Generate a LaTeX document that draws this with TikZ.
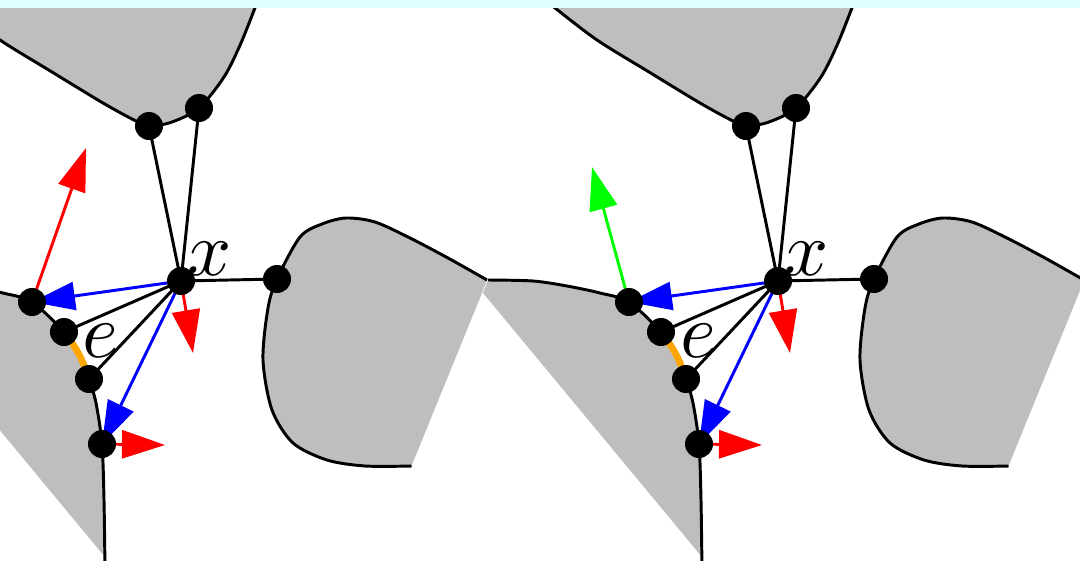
\documentclass[tikz,border=0pt]{standalone}
\usetikzlibrary{arrows.meta,backgrounds}
\definecolor{blobgrey}{RGB}{190,190,190}
\definecolor{stripcyan}{RGB}{224,255,255}
\definecolor{eorange}{RGB}{255,165,0}
\tikzset{
  dot/.style={circle,fill=black,inner sep=0pt,minimum size=0.7cm},
  lbl/.style={inner sep=0pt},
  every on background layer/.style={line width=2.1pt},
}
\newcommand{\biglbl}[1]{\scalebox{5.5}{$#1$}}
\begin{document}
\begin{tikzpicture}[x=0.025cm,y=-0.025cm,line width=2.1pt,>={Triangle[length=1.075cm,width=0.7cm]}]
  \useasboundingbox (0,0) rectangle (1080,560);
  \clip (0,0) rectangle (1080,560);
  % dos copias: flecha roja / flecha verde en C
  \foreach \s/\col/\tx/\ty in {0/red/86/148,597/green/-5/167}{
  \begin{scope}[shift={(\s,0)}]
    % vertices
    \node[dot] (X) at (181,281) {};
    \node[dot] (A) at (149,126) {};
    \node[dot] (B) at (199,108) {};
    \node[dot] (G) at (277,279) {};
    \node[dot] (C) at (32,302) {};
    \node[dot] (D) at (64,332) {};
    \node[dot] (E) at (89,379) {};
    \node[dot] (F) at (102,444) {};
    \node[lbl] (lx) at (210,259) {\biglbl{x}};
    \node[lbl] (le) at (101,341) {\biglbl{e}};
    \coordinate (tC) at (\tx,\ty);
    \coordinate (tX) at (193,353);
    \coordinate (tF) at (165,445);
    \begin{scope}[on background layer]
      % regiones grises
      \fill[blobgrey] plot[smooth] coordinates {(-48,3) (-42,8) (0,40) (52,72) (103,103) (134,120) (149,126) (172,122) (199,108) (224,77) (241,43) (258,0)} -- cycle;
      \fill[blobgrey] plot[smooth] coordinates {(411.5,466) (365,466) (327,460) (293,443) (272,410) (263,360) (268,308) (277,279) (300,237) (322,224) (346,218) (375,222) (410,238) (448,258) (487,280)} -- (482,293) -- cycle;
      \fill[blobgrey] plot[smooth] coordinates {(-109,280) (-64,281) (-30,286) (3,293) (32,302) (64,332) (80,356) (89,379) (96,403) (102,444) (104,500) (105,557)} -- (-114,293) -- cycle;
      % bordes
      \draw plot[smooth] coordinates {(-48,3) (-42,8) (0,40) (52,72) (103,103) (134,120) (149,126) (172,122) (199,108) (224,77) (241,43) (258,0)};
      \draw plot[smooth] coordinates {(411.5,466) (365,466) (327,460) (293,443) (272,410) (263,360) (268,308) (277,279) (300,237) (322,224) (346,218) (375,222) (410,238) (448,258) (487,280)};
      \draw plot[smooth] coordinates {(-109,280) (-64,281) (-30,286) (3,293) (32,302) (64,332) (80,356) (89,379) (96,403) (102,444) (104,500) (105,570)};
      \draw[eorange,line width=4.8pt] (D.center) to[bend left=10] (E.center);
      % aristas desde x
      \foreach \v in {A,B,G,D,E} \draw (X.center) -- (\v.center);
      \draw[->,blue] (X.center) -- (C.center);
      \draw[->,blue] (X.center) -- (F.center);
      \draw[->,red] (X.center) -- (tX);
      \draw[->,red] (F.center) -- (tF);
      \draw[->,\col] (C.center) -- (tC);
    \end{scope}
  \end{scope}}
  \fill[stripcyan] (0,0) rectangle (1080,8);
\end{tikzpicture}
\end{document}
